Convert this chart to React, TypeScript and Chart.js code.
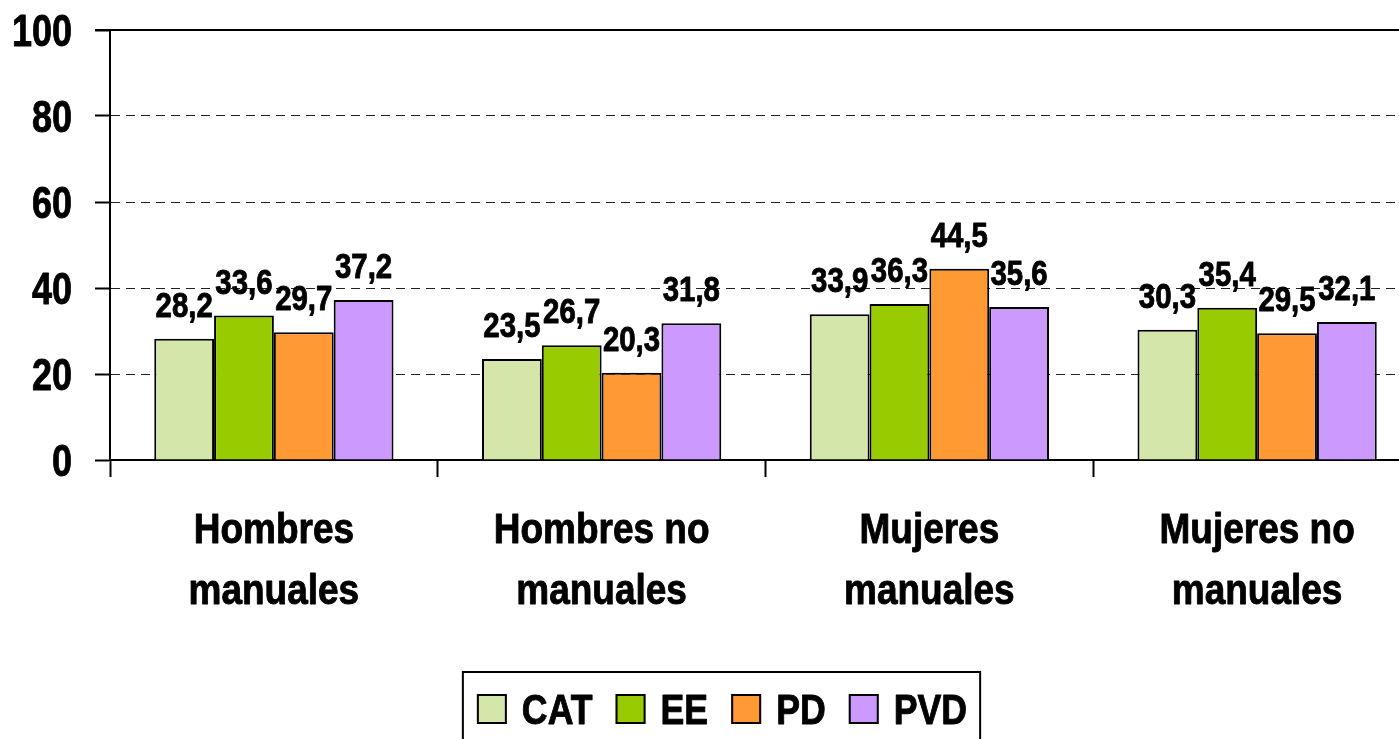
import React, { useEffect, useRef } from "react";
import { Chart, registerables } from "chart.js";

Chart.register(...registerables);

const categories: string[][] = [
  ["Hombres", "manuales"],
  ["Hombres no", "manuales"],
  ["Mujeres", "manuales"],
  ["Mujeres no", "manuales"],
];
const seriesNames = ["CAT", "EE", "PD", "PVD"];
const catValues = [28.2, 23.5, 33.9, 30.3];
const eeValues = [33.6, 26.7, 36.3, 35.4];
const pdValues = [29.7, 20.3, 44.5, 29.5];
const pvdValues = [37.2, 31.8, 35.6, 32.1];
const seriesColors = ["#D5E6AA", "#99CC00", "#FF9933", "#CC99FF"];
const yTicks = [0, 20, 40, 60, 80, 100];

const FONT = "'Liberation Sans', Arial, sans-serif";

const fmt = (v: number) => v.toFixed(1).replace(".", ",");

function drawText(
  ctx: CanvasRenderingContext2D,
  text: string,
  x: number,
  y: number,
  size: number,
  sx: number,
  align: CanvasTextAlign
) {
  ctx.save();
  ctx.font = `bold ${size}px ${FONT}`;
  ctx.fillStyle = "#000";
  ctx.strokeStyle = "#000";
  ctx.lineWidth = 0.9;
  ctx.lineJoin = "round";
  ctx.textAlign = align;
  ctx.textBaseline = "alphabetic";
  ctx.translate(x, y);
  ctx.scale(sx, 1);
  ctx.fillText(text, 0, 0);
  ctx.strokeText(text, 0, 0);
  ctx.restore();
}

function textWidth(ctx: CanvasRenderingContext2D, text: string, size: number, sx: number) {
  ctx.save();
  ctx.font = `bold ${size}px ${FONT}`;
  const w = ctx.measureText(text).width * sx;
  ctx.restore();
  return w;
}

const extrasPlugin = {
  id: "extras",
  afterDatasetsDraw(chart: any) {
    const ctx = chart.ctx;
    chart.data.datasets.forEach((ds: any, di: number) => {
      const meta = chart.getDatasetMeta(di);
      meta.data.forEach((bar: any, i: number) => {
        drawText(ctx, fmt(ds.data[i]), bar.x, bar.y - 22, 35, 0.84, "center");
      });
    });
  },
  afterDraw(chart: any) {
    const ctx = chart.ctx;
    const area = chart.chartArea;
    const xs = chart.scales.x;
    const ys = chart.scales.y;
    ctx.save();
    ctx.strokeStyle = "#000";
    ctx.lineWidth = 2;
    ctx.beginPath();
    ctx.moveTo(area.left - 15, area.top);
    ctx.lineTo(chart.width, area.top);
    ctx.stroke();
    ctx.restore();

    yTicks.forEach((v) => {
      const y = ys.getPixelForValue(v);
      drawText(ctx, String(v), area.left - 38, y + 16, 45, 0.8, "right");
    });

    categories.forEach((lines, i) => {
      const x = xs.getPixelForValue(i);
      lines.forEach((line, li) => {
        drawText(ctx, line, x, 543 + li * 61, 43, 0.86, "center");
      });
    });

    const box = 30;
    const gapText = 15;
    const gapItem = 23;
    const lsize = 43;
    const lsx = 0.83;
    const widths = seriesNames.map((n) => textWidth(ctx, n, lsize, lsx));
    const total =
      widths.reduce((s, w) => s + box + gapText + w, 0) + gapItem * (seriesNames.length - 1);
    const center = 722;
    let x = center - total / 2;
    const boxTop = 694;
    const baseline = 724;
    const legendLeft = x - 14;
    ctx.save();
    seriesNames.forEach((n, i) => {
      ctx.fillStyle = seriesColors[i];
      ctx.fillRect(x, boxTop, box, box);
      ctx.strokeStyle = "#000";
      ctx.lineWidth = 2;
      ctx.strokeRect(x + 1, boxTop + 1, box - 2, box - 2);
      drawText(ctx, n, x + box + gapText, baseline, lsize, lsx, "left");
      x += box + gapText + widths[i] + gapItem;
    });
    const legendRight = x - gapItem + 13;
    ctx.strokeStyle = "#000";
    ctx.lineWidth = 2;
    ctx.strokeRect(legendLeft, 672, legendRight - legendLeft, 100);
    ctx.restore();
  },
};

export default function App() {
  const ref = useRef<HTMLCanvasElement>(null);
  useEffect(() => {
    if (!ref.current) return;
    const values = [catValues, eeValues, pdValues, pvdValues];
    const chart = new Chart(ref.current, {
      type: "bar",
      data: {
        labels: categories,
        datasets: seriesNames.map((name, i) => ({
          label: name,
          data: values[i],
          backgroundColor: seriesColors[i],
          borderColor: "#000",
          borderWidth: 2,
          categoryPercentage: 0.73,
          barPercentage: 1.0,
        })),
      },
      options: {
        responsive: false,
        animation: false,
        devicePixelRatio: 1,
        layout: { padding: { top: 30, right: 19, left: 0, bottom: 0 } },
        plugins: {
          legend: { display: false },
          tooltip: { enabled: false },
        },
        scales: {
          x: {
            offset: true,
            grid: {
              display: true,
              offset: true,
              drawOnChartArea: false,
              drawTicks: true,
              tickLength: 17,
              tickColor: "#000",
              tickWidth: 2,
            },
            border: { display: true, color: "#000", width: 2 },
            ticks: { display: false, autoSkip: false, maxRotation: 0 },
            afterFit: (scale: any) => {
              scale.height = 739 - 460;
            },
          },
          y: {
            min: 0,
            max: 100,
            afterBuildTicks: (scale: any) => {
              scale.ticks = yTicks.map((v) => ({ value: v }));
            },
            grid: {
              color: (ctx: any) =>
                ctx.tick && (ctx.tick.value === 0 || ctx.tick.value === 100)
                  ? "rgba(0,0,0,0)"
                  : "#222",
              lineWidth: 1,
              drawTicks: true,
              tickLength: 15,
              tickColor: "#000",
              tickWidth: 2,
            },
            border: { display: true, color: "#000", width: 2, dash: [9, 6] },
            ticks: { display: false },
            afterFit: (scale: any) => {
              scale.width = 110;
            },
          },
        },
      },
      plugins: [extrasPlugin],
    });
    return () => chart.destroy();
  }, []);

  return (
    <div
      style={{
        position: "fixed",
        left: 0,
        top: 0,
        width: 1399,
        height: 739,
        overflow: "hidden",
        background: "#fff",
      }}
    >
      <canvas ref={ref} width={1440} height={739} style={{ width: 1440, height: 739, display: "block" }} />
    </div>
  );
}
